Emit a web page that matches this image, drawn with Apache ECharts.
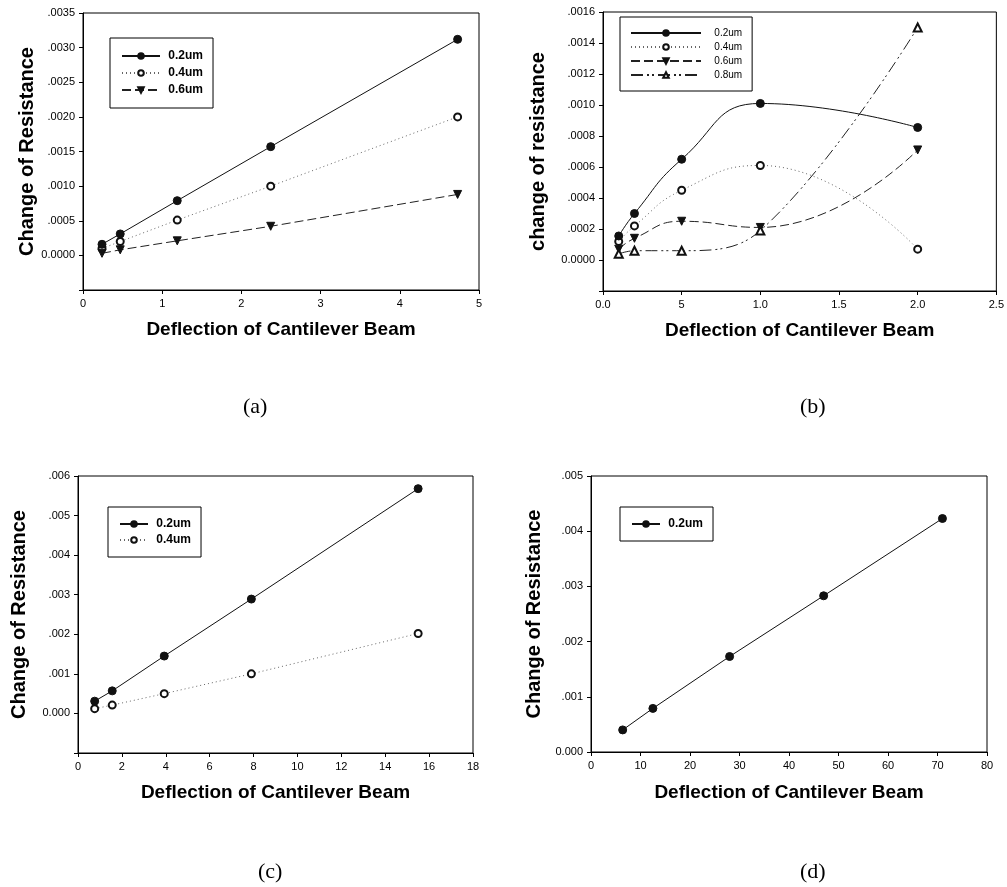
<!DOCTYPE html>
<html><head><meta charset="utf-8">
<script src="https://cdn.jsdelivr.net/npm/echarts@6/dist/echarts.min.js"></script>
<style>html,body{margin:0;padding:0;background:#fff}#c{width:1007px;height:887px}</style>
</head><body><div id="c"></div>
<script>
// ---- Panel (a) ----
const xA = [0.24, 0.47, 1.19, 2.37, 4.73];
const a02 = [0.00016, 0.00031, 0.00079, 0.00157, 0.00312];
const a04 = [0.00010, 0.00020, 0.00051, 0.00100, 0.00200];
const a06 = [0.00003, 0.00008, 0.00021, 0.00042, 0.00088];
const yTicksA = ['', '0.0000', '.0005', '.0010', '.0015', '.0020', '.0025', '.0030', '.0035'];
const xTicksA = ['0', '1', '2', '3', '4', '5'];
// ---- Panel (b) ----
const xB = [1, 2, 5, 10, 20];
const b02 = [0.000155, 0.00030, 0.00065, 0.00101, 0.000855];
const b04 = [0.00012, 0.00022, 0.00045, 0.00061, 0.00007];
const b06 = [0.00007, 0.00014, 0.00025, 0.00021, 0.00071];
const b08 = [0.00004, 0.00006, 0.00006, 0.00019, 0.00150];
const yTicksB = ['', '0.0000', '.0002', '.0004', '.0006', '.0008', '.0010', '.0012', '.0014', '.0016'];
const xTicksB = ['0.0', '5', '1.0', '1.5', '2.0', '2.5'];
// ---- Panel (c) ----
const xC = [0.76, 1.56, 3.93, 7.9, 15.5];
const c02 = [0.00031, 0.00057, 0.00145, 0.00289, 0.00568];
const c04 = [0.00012, 0.00021, 0.00050, 0.00100, 0.00202];
const yTicksC = ['', '0.000', '.001', '.002', '.003', '.004', '.005', '.006'];
const xTicksC = ['0', '2', '4', '6', '8', '10', '12', '14', '16', '18'];
// ---- Panel (d) ----
const xD = [6.4, 12.5, 28, 47, 71];
const d02 = [0.00040, 0.00079, 0.00173, 0.00283, 0.00423];
const yTicksD = ['0.000', '.001', '.002', '.003', '.004', '.005'];
const xTicksD = ['0', '10', '20', '30', '40', '50', '60', '70', '80'];

const names = ['0.2um', '0.4um', '0.6um', '0.8um'];
const yTitle = 'Change of Resistance';
const yTitleB = 'change of resistance';
const xTitle = 'Deflection of Cantilever Beam';
const panelLabels = ['(a)', '(b)', '(c)', '(d)'];

const FONT = 'Liberation Sans, Arial, sans-serif';
const pairs = (xs, ys) => xs.map((x, i) => [x, ys[i]]);

const styles = {
  '0.2um': {symbol: 'circle', symbolSize: 8, lineStyle: {color: '#111', width: 1, type: 'solid'}},
  '0.4um': {symbol: 'emptyCircle', symbolSize: 7, lineStyle: {color: '#666', width: 1, type: [1, 3]}},
  '0.6um': {symbol: 'triangle', symbolRotate: 180, symbolSize: 8, lineStyle: {color: '#222', width: 1, type: [9, 4]}},
  '0.8um': {symbol: 'emptyTriangle', symbolSize: 8, lineStyle: {color: '#222', width: 1, type: [12, 4, 2, 3, 2, 4]}}
};
function ser(name, idx, xs, ys, smooth) {
  const s = styles[name];
  return Object.assign({
    type: 'line', name: name, xAxisIndex: idx, yAxisIndex: idx,
    data: pairs(xs, ys), smooth: smooth || false,
    itemStyle: {color: '#111', borderColor: '#111', borderWidth: 1},
    z: name === '0.2um' ? 5 : 3
  }, s);
}

function xAxis(idx, min, max, interval, labels, gap) {
  return {
    type: 'value', gridIndex: idx, min: min, max: max, interval: interval,
    name: xTitle, nameLocation: 'middle', nameGap: gap,
    nameTextStyle: {fontFamily: FONT, fontWeight: 'bold', fontSize: 19, color: '#000'},
    axisLine: {show: true, onZero: false, lineStyle: {color: '#000', width: 1}},
    axisTick: {show: true, inside: false, length: 4, lineStyle: {color: '#000'}},
    splitLine: {show: false},
    axisLabel: {fontFamily: FONT, fontSize: 11, color: '#000', margin: 8,
      formatter: (v, i) => labels[i] !== undefined ? labels[i] : ''}
  };
}
function yAxis(idx, min, max, interval, labels, title, gap) {
  return {
    type: 'value', gridIndex: idx, min: min, max: max, interval: interval,
    name: title, nameLocation: 'middle', nameGap: gap, nameRotate: 90,
    nameTextStyle: {fontFamily: FONT, fontWeight: 'bold', fontSize: 20, color: '#000'},
    axisLine: {show: true, onZero: false, lineStyle: {color: '#000', width: 1}},
    axisTick: {show: true, inside: false, length: 4, lineStyle: {color: '#000'}},
    splitLine: {show: false},
    axisLabel: {fontFamily: FONT, fontSize: 11, color: '#000', margin: 8,
      formatter: (v, i) => labels[i] !== undefined ? labels[i] : ''}
  };
}
function legend(data, left, top, opts) {
  return Object.assign({
    data: data, orient: 'vertical', left: left, top: top,
    borderColor: '#000', borderWidth: 1, borderRadius: 0, backgroundColor: '#fff',
    selectedMode: false, itemGap: 5, itemHeight: 7,
    textStyle: {fontFamily: FONT, fontSize: 12, fontWeight: 'bold', color: '#000', lineHeight: 12}
  }, opts);
}

const chart = echarts.init(document.getElementById('c'), null, {renderer: 'canvas'});
chart.setOption({
  backgroundColor: '#fff',
  animation: false,
  grid: [
    {left: 83, top: 13, width: 396, height: 277, show: true, borderColor: '#000', borderWidth: 1},
    {left: 603, top: 12, width: 395, height: 279, show: true, borderColor: '#000', borderWidth: 1},
    {left: 78, top: 476, width: 395, height: 277, show: true, borderColor: '#000', borderWidth: 1},
    {left: 591, top: 476, width: 396, height: 276, show: true, borderColor: '#000', borderWidth: 1}
  ],
  xAxis: [
    xAxis(0, 0, 5, 1, xTicksA, 30),
    xAxis(1, 0, 25, 5, xTicksB, 30),
    xAxis(2, 0, 18, 2, xTicksC, 30),
    xAxis(3, 0, 80, 10, xTicksD, 31)
  ],
  yAxis: [
    yAxis(0, -0.0005, 0.0035, 0.0005, yTicksA, yTitle, 45),
    yAxis(1, -0.0002, 0.0016, 0.0002, yTicksB, yTitleB, 55),
    yAxis(2, -0.001, 0.006, 0.001, yTicksC, yTitle, 49),
    yAxis(3, 0, 0.005, 0.001, yTicksD, yTitle, 47)
  ],
  legend: [
    legend(names.slice(0, 3), 110, 38, {itemWidth: 38, itemGap: 5, padding: [12, 10, 12, 11],
      formatter: n => ' ' + n}),
    legend(names.slice(0, 4), 620, 17, {itemWidth: 70, itemGap: 4, padding: [11, 10, 11, 10],
      textStyle: {fontFamily: FONT, fontSize: 10, color: '#000', lineHeight: 10},
      formatter: n => '   ' + n}),
    legend(names.slice(0, 2), 108, 507, {itemWidth: 28, itemGap: 4, padding: [11, 10, 11, 11],
      formatter: n => ' ' + n}),
    legend(names.slice(0, 1), 620, 507, {itemWidth: 28, itemGap: 6, padding: [11, 10, 11, 11],
      formatter: n => ' ' + n})
  ],
  graphic: [
    {type: 'text', left: 258 - 15, top: 396, style: {text: panelLabels[0], font: '22px "Liberation Serif", "Times New Roman", serif', fill: '#000'}},
    {type: 'text', left: 815 - 15, top: 396, style: {text: panelLabels[1], font: '22px "Liberation Serif", "Times New Roman", serif', fill: '#000'}},
    {type: 'text', left: 273 - 15, top: 861, style: {text: panelLabels[2], font: '22px "Liberation Serif", "Times New Roman", serif', fill: '#000'}},
    {type: 'text', left: 815 - 15, top: 861, style: {text: panelLabels[3], font: '22px "Liberation Serif", "Times New Roman", serif', fill: '#000'}}
  ],
  series: [
    ser('0.2um', 0, xA, a02), ser('0.4um', 0, xA, a04), ser('0.6um', 0, xA, a06),
    ser('0.2um', 1, xB, b02, 0.5), ser('0.4um', 1, xB, b04, 0.5), ser('0.6um', 1, xB, b06, 0.5), ser('0.8um', 1, xB, b08, 0.4),
    ser('0.2um', 2, xC, c02), ser('0.4um', 2, xC, c04),
    ser('0.2um', 3, xD, d02)
  ]
});
</script></body></html>
